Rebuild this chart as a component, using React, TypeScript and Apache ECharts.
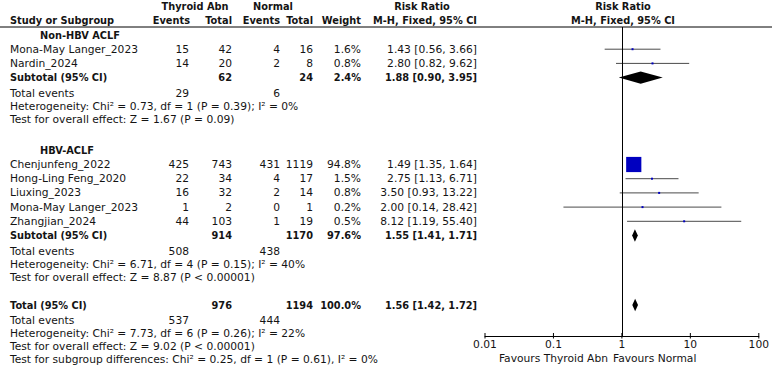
import React, { useEffect, useRef } from 'react';
import * as echarts from 'echarts';

// ---------- data ----------
const groupNames = ['Non-HBV ACLF', 'HBV-ACLF'];
const studyNames = ['Mona-May Langer_2023', 'Nardin_2024', 'Chenjunfeng_2022', 'Hong-Ling Feng_2020', 'Liuxing_2023', 'Mona-May Langer_2023', 'Zhangjian_2024'];
const studyGroup = [0, 0, 1, 1, 1, 1, 1];
const expEvents = [15, 14, 425, 22, 16, 1, 44];
const expTotal = [42, 20, 743, 34, 32, 2, 103];
const ctlEvents = [4, 2, 431, 4, 2, 0, 1];
const ctlTotal = [16, 8, 1119, 17, 14, 1, 19];
const weights = [1.6, 0.8, 94.8, 1.5, 0.8, 0.2, 0.5];
const rr = [1.43, 2.80, 1.49, 2.75, 3.50, 2.00, 8.12];
const rrLow = [0.56, 0.82, 1.35, 1.13, 0.93, 0.14, 1.19];
const rrHigh = [3.66, 9.62, 1.64, 6.71, 13.22, 28.42, 55.40];

const subExpTotal = [62, 914];
const subCtlTotal = [24, 1170];
const subWeight = [2.4, 97.6];
const subRR = [1.88, 1.55];
const subLow = [0.90, 1.41];
const subHigh = [3.95, 1.71];
const subExpEvents = [29, 508];
const subCtlEvents = [6, 438];
const subHet = ['Heterogeneity: Chi² = 0.73, df = 1 (P = 0.39); I² = 0%', 'Heterogeneity: Chi² = 6.71, df = 4 (P = 0.15); I² = 40%'];
const subTest = ['Test for overall effect: Z = 1.67 (P = 0.09)', 'Test for overall effect: Z = 8.87 (P < 0.00001)'];

const totExpTotal = 976;
const totCtlTotal = 1194;
const totWeight = 100.0;
const totRR = 1.56;
const totLow = 1.42;
const totHigh = 1.72;
const totExpEvents = 537;
const totCtlEvents = 444;
const totHet = 'Heterogeneity: Chi² = 7.73, df = 6 (P = 0.26); I² = 22%';
const totTest = 'Test for overall effect: Z = 9.02 (P < 0.00001)';
const subgroupDiff = 'Test for subgroup differences: Chi² = 0.25, df = 1 (P = 0.61), I² = 0%';

const xTicks = [0.01, 0.1, 1, 10, 100];
const xTickLabels = ['0.01', '0.1', '1', '10', '100'];
const favoursLeft = 'Favours Thyroid Abn';
const favoursRight = 'Favours Normal';

// ---------- layout ----------
const W = 772, H = 373;
const FONT = '"DejaVu Sans", Verdana, sans-serif';
const REG = `10.7px ${FONT}`;
const BOLD = `bold 9.8px ${FONT}`;
const TXT = '#141414';
const groupTitleY = [35, 150];
const groupFirstY = [49.2, 164.5];
const ROW = 14.2;
const FOOT1 = 15.5, FOOT = 13;
const totalY = 305;
const COL = { name: 10, title: 40, ee: 189, et: 232, ce: 280, ct: 313, w: 361, rr: 477 };
const headerLineY = 27;
const axisY = 336;
const favoursY = 358.5;
const plotL = 485, plotR = 761;

const fmt2 = (v: number) => v.toFixed(2);
const ci = (m: number, l: number, h: number) => `${fmt2(m)} [${fmt2(l)}, ${fmt2(h)}]`;

export default function App() {
  const ref = useRef<HTMLDivElement>(null);
  useEffect(() => {
    if (!ref.current) return;
    const chart = echarts.init(ref.current, undefined, { renderer: 'svg' });

    const texts: any[] = [];
    const t = (text: string, x: number, y: number, align: string, bold = false) => {
      texts.push({
        type: 'text', x, y, silent: true,
        style: { text, font: bold ? BOLD : REG, fill: TXT, textAlign: align, textVerticalAlign: 'middle', align, verticalAlign: 'middle' },
      });
    };

    // headers
    t('Thyroid Abn', 195, 6, 'center', true);
    t('Normal', 273, 6, 'center', true);
    t('Risk Ratio', 422, 6, 'center', true);
    t('Risk Ratio', 623, 6, 'center', true);
    t('Study or Subgroup', COL.name, 20.5, 'left', true);
    t('Events', COL.ee + 1, 20.5, 'right', true);
    t('Total', COL.et, 20.5, 'right', true);
    t('Events', COL.ce, 20.5, 'right', true);
    t('Total', COL.ct, 20.5, 'right', true);
    t('Weight', COL.w, 20.5, 'right', true);
    t('M-H, Fixed, 95% CI', COL.rr, 20.5, 'right', true);
    t('M-H, Fixed, 95% CI', 623, 20.5, 'center', true);

    const studyY: number[] = [];
    const subY: number[] = [];
    groupNames.forEach((g, gi) => {
      t(g, COL.title, groupTitleY[gi], 'left', true);
      let y = groupFirstY[gi];
      studyNames.forEach((n, i) => {
        if (studyGroup[i] !== gi) return;
        studyY[i] = y;
        t(n, COL.name, y, 'left');
        t(String(expEvents[i]), COL.ee, y, 'right');
        t(String(expTotal[i]), COL.et, y, 'right');
        t(String(ctlEvents[i]), COL.ce, y, 'right');
        t(String(ctlTotal[i]), COL.ct, y, 'right');
        t(`${weights[i].toFixed(1)}%`, COL.w, y, 'right');
        t(ci(rr[i], rrLow[i], rrHigh[i]), COL.rr, y, 'right');
        y += ROW;
      });
      subY[gi] = y;
      t('Subtotal (95% CI)', COL.name, y, 'left', true);
      t(String(subExpTotal[gi]), COL.et, y, 'right', true);
      t(String(subCtlTotal[gi]), COL.ct, y, 'right', true);
      t(`${subWeight[gi].toFixed(1)}%`, COL.w, y, 'right', true);
      t(ci(subRR[gi], subLow[gi], subHigh[gi]), COL.rr, y, 'right', true);
      const f1 = y + FOOT1;
      t('Total events', COL.name, f1, 'left');
      t(String(subExpEvents[gi]), COL.ee, f1, 'right');
      t(String(subCtlEvents[gi]), COL.ce, f1, 'right');
      t(subHet[gi], COL.name, f1 + FOOT, 'left');
      t(subTest[gi], COL.name, f1 + 2 * FOOT, 'left');
    });

    t('Total (95% CI)', COL.name, totalY, 'left', true);
    t(String(totExpTotal), COL.et, totalY, 'right', true);
    t(String(totCtlTotal), COL.ct, totalY, 'right', true);
    t(`${totWeight.toFixed(1)}%`, COL.w, totalY, 'right', true);
    t(ci(totRR, totLow, totHigh), COL.rr, totalY, 'right', true);
    const tf = totalY + FOOT1;
    t('Total events', COL.name, tf, 'left');
    t(String(totExpEvents), COL.ee, tf, 'right');
    t(String(totCtlEvents), COL.ce, tf, 'right');
    t(totHet, COL.name, tf + FOOT, 'left');
    t(totTest, COL.name, tf + 2 * FOOT, 'left');
    t(subgroupDiff, COL.name, tf + 3 * FOOT, 'left');

    t(favoursLeft, 608, favoursY, 'right');
    t(favoursRight, 613, favoursY, 'left');

    texts.push({
      type: 'line', silent: true,
      shape: { x1: 0, y1: headerLineY, x2: W, y2: headerLineY },
      style: { stroke: '#000', lineWidth: 1 },
    });

    const studyData = studyNames.map((_, i) => [rrLow[i], rrHigh[i], rr[i], studyY[i], weights[i]]);
    const diamondData = [
      ...groupNames.map((_, gi) => [subLow[gi], subHigh[gi], subRR[gi], subY[gi]]),
      [totLow, totHigh, totRR, totalY],
    ];
    const tickData = xTicks.map((v) => [v, axisY]);

    chart.setOption({
      animation: false,
      grid: { left: plotL, right: W - plotR, top: headerLineY, height: axisY - headerLineY },
      xAxis: {
        type: 'log', logBase: 10, min: xTicks[0], max: xTicks[xTicks.length - 1],
        axisLine: { show: true, lineStyle: { color: '#000', width: 1 } },
        axisTick: { show: false },
        splitLine: { show: false },
        axisLabel: {
          color: TXT, fontSize: 10.7, fontFamily: FONT, margin: 3,
          formatter: (v: number) => {
            const idx = xTicks.findIndex((tk) => Math.abs(Math.log10(tk) - Math.log10(v)) < 1e-6);
            return idx >= 0 ? xTickLabels[idx] : '';
          },
        },
      },
      yAxis: { type: 'value', inverse: true, min: headerLineY, max: axisY, show: false },
      series: [
        {
          type: 'custom',
          clip: false,
          encode: { x: [0, 1, 2], y: 3 },
          data: studyData,
          renderItem: (params: any, api: any) => {
            const l = api.coord([api.value(0), api.value(3)]);
            const h = api.coord([api.value(1), api.value(3)]);
            const c = api.coord([api.value(2), api.value(3)]);
            const s = Math.max(2, 15.2 * Math.sqrt(api.value(4) / 94.8));
            return {
              type: 'group',
              children: [
                { type: 'line', shape: { x1: l[0], y1: l[1], x2: h[0], y2: h[1] }, style: { stroke: '#4a4a4a', lineWidth: 1 } },
                { type: 'rect', shape: { x: c[0] - s / 2, y: c[1] - s / 2, width: s, height: s }, style: { fill: '#0000c0' } },
              ],
            };
          },
          markLine: {
            silent: true, symbol: ['none', 'none'],
            label: { show: false },
            lineStyle: { color: '#000', width: 1, type: 'solid' },
            data: [{ xAxis: 1 }],
          },
        },
        {
          type: 'custom',
          clip: false,
          encode: { x: [0, 1, 2], y: 3 },
          data: diamondData,
          renderItem: (params: any, api: any) => {
            const l = api.coord([api.value(0), api.value(3)]);
            const h = api.coord([api.value(1), api.value(3)]);
            const c = api.coord([api.value(2), api.value(3)]);
            const hh = 6.2;
            return {
              type: 'polygon',
              shape: { points: [[l[0], l[1]], [c[0], c[1] - hh], [h[0], h[1]], [c[0], c[1] + hh]] },
              style: { fill: '#000' },
            };
          },
        },
        {
          type: 'custom',
          clip: false,
          encode: { x: 0, y: 1 },
          data: tickData,
          renderItem: (params: any, api: any) => {
            const p = api.coord([api.value(0), api.value(1)]);
            return {
              type: 'line',
              shape: { x1: p[0], y1: p[1] - 3, x2: p[0], y2: p[1] + 2.5 },
              style: { stroke: '#000', lineWidth: 1 },
            };
          },
        },
      ],
      graphic: texts,
    });
    return () => chart.dispose();
  }, []);
  return <div ref={ref} style={{ width: W, height: H, position: 'absolute', left: 0, top: 0, background: '#fff' }} />;
}
